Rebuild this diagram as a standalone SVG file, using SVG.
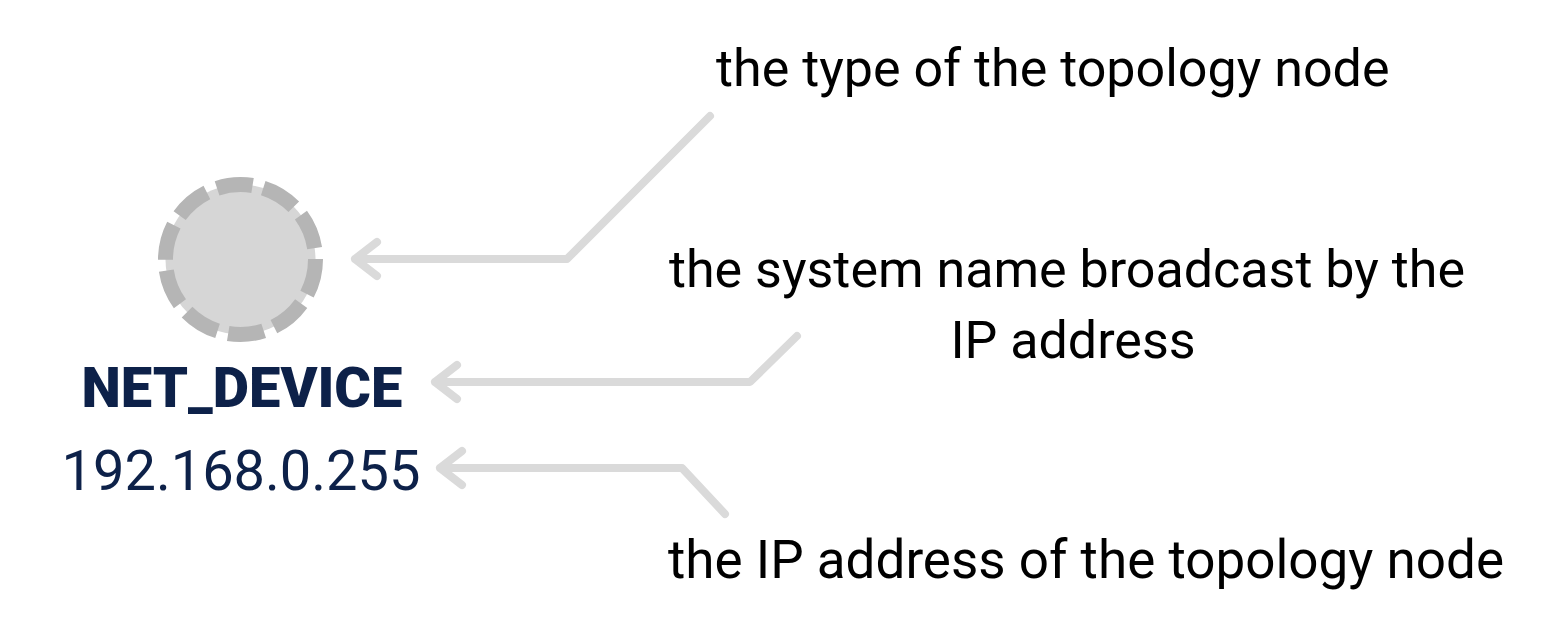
<svg xmlns="http://www.w3.org/2000/svg" width="1556" height="632" viewBox="0 0 1556 632">
<style>
.t{font-family:Roboto,"Liberation Sans",sans-serif;font-size:52px;fill:#000}
.c{fill:none;stroke:#dadada;stroke-width:8;stroke-linecap:round;stroke-linejoin:round}
</style>
<rect width="1556" height="632" fill="#fff"/>
<g id="node">
<circle cx="240.5" cy="259.5" r="75" fill="#d6d6d6" stroke="#b5b5b5" stroke-width="15" stroke-dasharray="36 11"/>
<text x="242" y="407" text-anchor="middle" font-family="Roboto,'Liberation Sans',sans-serif" font-size="56" font-weight="900" fill="#0d2149">NET_DEVICE</text>
<text x="241" y="490" text-anchor="middle" font-family="Roboto,'Liberation Sans',sans-serif" font-size="56" fill="#0d2149">192.168.0.255</text>
</g>
<g id="connectors">
<path class="c" d="M710 116 L567 259 L355 259 M377 242 L355 259 L377 276"/>
<path class="c" d="M797 336 L750 382 L435 382 M457 365 L435 382 L457 399"/>
<path class="c" d="M725 514 L682 468 L440 468 M462 451 L440 468 L462 485"/>
</g>
<g id="labels">
<text class="t" x="716" y="86">the type of the topology node</text>
<text class="t" x="1067" y="287" text-anchor="middle">the system name broadcast by the</text>
<text class="t" x="1073" y="358" text-anchor="middle">IP address</text>
<text class="t" x="668" y="578" style="font-size:53px">the IP address of the topology node</text>
</g>
</svg>
